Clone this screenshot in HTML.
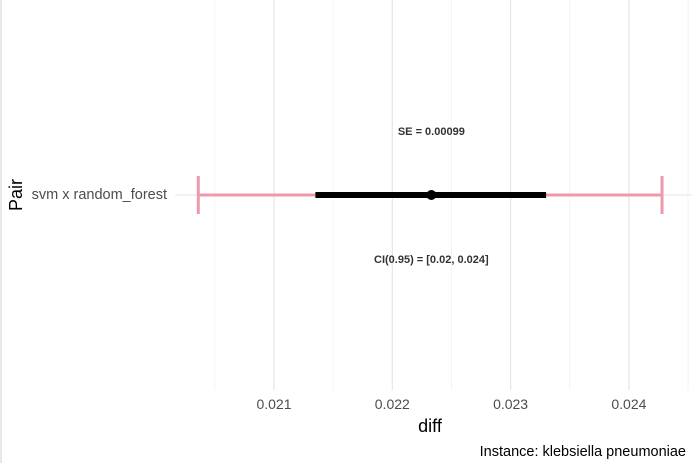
<!DOCTYPE html>
<html><head><meta charset="utf-8"><style>
body{margin:0;background:#fff;font-family:"Liberation Sans",sans-serif}
svg{display:block}
</style></head><body>
<svg id="c" width="692" height="463" font-family="Liberation Sans, sans-serif">
<line x1="1" y1="0" x2="1" y2="463" stroke="#d0d0d0" stroke-width="1"/>
<g id="grid"></g><g id="marks"></g>
<text x="16" y="195" transform="rotate(-90 16 195)" text-anchor="middle" dominant-baseline="central" font-size="18" fill="#000">Pair</text>
<text x="430" y="432" text-anchor="middle" font-size="18" fill="#000">diff</text>
<text x="686" y="456" text-anchor="end" font-size="14.5" fill="#000">Instance: klebsiella pneumoniae</text>
</svg>
<script>
const categories=["svm x random_forest"];
const lowCI=[0.02036];
const highCI=[0.02428];
const lowSE=[0.02135];
const highSE=[0.02330];
const meanDiff=[0.02233];
const xTicks=[0.021,0.022,0.023,0.024];
const xTickLabels=["0.021","0.022","0.023","0.024"];
const seLabels=["SE = 0.00099"];
const ciLabels=["CI(0.95) = [0.02, 0.024]"];
const NS="http://www.w3.org/2000/svg";
const x=v=>274+(v-0.021)*118300;
const y=i=>195+i*60;
function mk(p,t,a){const e=document.createElementNS(NS,t);for(const k in a)e.setAttribute(k,a[k]);p.appendChild(e);return e;}
const g=document.getElementById('grid'),m=document.getElementById('marks');
xTicks.forEach((t,i)=>{
 const l=mk(g,'line',{x1:x(t),x2:x(t),y1:0,y2:390,stroke:'#e4e4e4','stroke-width':1.1});
 
 
 const mn=mk(g,'line',{x1:x(t-0.0005),x2:x(t-0.0005),y1:0,y2:390,stroke:'#f1f1f1','stroke-width':0.8});
 
 
 const tx=mk(g,'text',{x:x(t),y:409,'text-anchor':'middle','font-size':14,fill:'#4d4d4d'});
 tx.textContent=xTickLabels[i];
 
 
});
const last=xTicks[xTicks.length-1]+0.0005;
const ml=mk(g,'line',{x1:x(last),x2:x(last),y1:0,y2:390,stroke:'#f1f1f1','stroke-width':0.8});


categories.forEach((c,i)=>{
 const yy=y(i);
 const hl=mk(g,'line',{x1:175,x2:692,y1:yy,y2:yy,stroke:'#e4e4e4','stroke-width':1.1});
 
 
 const lb=mk(g,'text',{x:167,y:yy,'text-anchor':'end','dominant-baseline':'central','font-size':14.5,fill:'#4d4d4d'});
 lb.textContent=c;
 
 
 const ci=mk(m,'g',{stroke:'#ee9aac','stroke-width':3});
 
 
 mk(ci,'line',{x1:x(lowCI[i]),x2:x(highCI[i]),y1:yy,y2:yy});
 mk(ci,'line',{x1:x(lowCI[i]),x2:x(lowCI[i]),y1:yy-19,y2:yy+19});
 mk(ci,'line',{x1:x(highCI[i]),x2:x(highCI[i]),y1:yy-19,y2:yy+19});
 const se=mk(m,'line',{x1:x(lowSE[i]),x2:x(highSE[i]),y1:yy,y2:yy,stroke:'#000','stroke-width':6});
 
 
 const pt=mk(m,'circle',{cx:x(meanDiff[i]),cy:yy,r:5,fill:'#000'});
 
 
 const st=mk(m,'text',{x:x(meanDiff[i]),y:yy-63,'text-anchor':'middle','dominant-baseline':'central','font-size':11,'font-weight':'bold',fill:'#333'});
 st.textContent=seLabels[i];
 
 
 const ct=mk(m,'text',{x:x(meanDiff[i]),y:yy+65,'text-anchor':'middle','dominant-baseline':'central','font-size':11,'font-weight':'bold',fill:'#333'});
 ct.textContent=ciLabels[i];
 
 
});
</script>
</body></html>
